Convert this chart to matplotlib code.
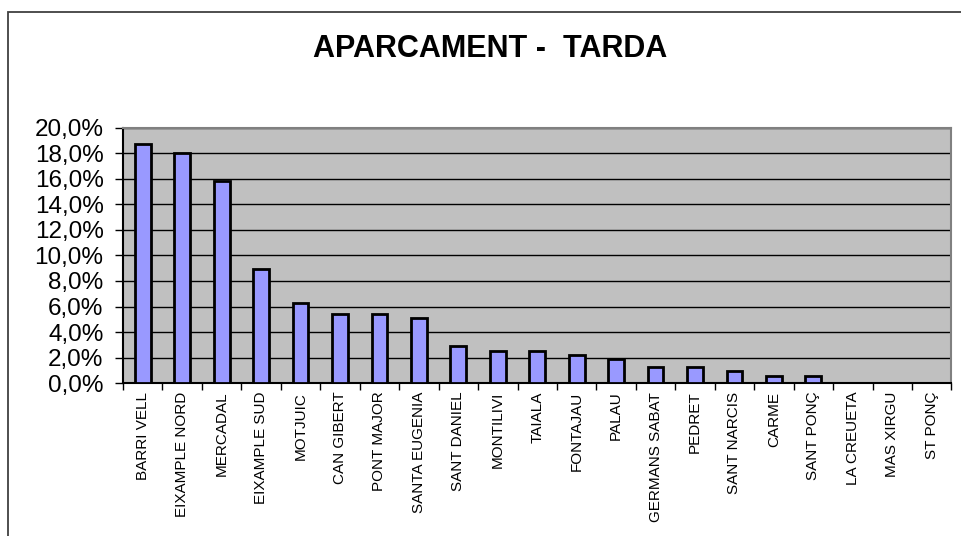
import numpy as np
import matplotlib
matplotlib.use('Agg')
import matplotlib.pyplot as plt
from matplotlib.ticker import FuncFormatter, FixedLocator
from matplotlib.patches import Rectangle

plt.rcParams['font.family'] = ['Liberation Sans', 'DejaVu Sans']

# Data
barris = ['BARRI VELL', 'EIXAMPLE NORD', 'MERCADAL', 'EIXAMPLE SUD', 'MOTJUIC',
          'CAN GIBERT', 'PONT MAJOR', 'SANTA EUGENIA', 'SANT DANIEL', 'MONTILIVI',
          'TAIALA', 'FONTAJAU', 'PALAU', 'GERMANS SABAT', 'PEDRET', 'SANT NARCIS',
          'CARME', 'SANT PONÇ', 'LA CREUETA', 'MAS XIRGU', 'ST PONÇ']
percent = [18.7, 18.0, 15.8, 8.9, 6.3, 5.4, 5.4, 5.1, 2.9, 2.5, 2.5,
           2.2, 1.9, 1.3, 1.3, 0.95, 0.6, 0.6, 0.0, 0.0, 0.0]

fig = plt.figure(figsize=(9.62, 5.36), dpi=100)
ax = fig.add_axes([0.1279, 0.2849, 0.989 - 0.1279, 0.7621 - 0.2849])

# outer chart border (only left and top visible in the reference)
fig.patches.append(Rectangle((8 / 962, -0.1), 1.2, 1 - 12 / 536 + 0.1,
                             transform=fig.transFigure, fill=False,
                             edgecolor='#404040', linewidth=1.3))

x = np.arange(len(barris))
ax.set_facecolor('#C0C0C0')
ax.set_axisbelow(True)
ax.yaxis.grid(True, color='black', linewidth=1)
ax.bar(x, percent, width=0.4, color='#9999FF', edgecolor='black', linewidth=2, zorder=3)

ax.set_xlim(-0.5, len(barris) - 0.5)
ax.set_ylim(0, 20)
ax.set_yticks(np.arange(0, 21, 2))
ax.yaxis.set_major_formatter(FuncFormatter(lambda v, p: f'{v:.1f}%'.replace('.', ',')))
ax.tick_params(axis='y', labelsize=17.5, length=6, width=1, pad=8, direction='out')

ax.set_xticks(x)
ax.set_xticklabels(barris, rotation=90, fontsize=11)
ax.tick_params(axis='x', which='major', length=0, pad=6)
ax.xaxis.set_minor_locator(FixedLocator(np.arange(-0.5, len(barris), 1)))
ax.tick_params(axis='x', which='minor', length=5, width=1, direction='out')

for side in ['top', 'right', 'left', 'bottom']:
    ax.spines[side].set_color('#808080')
    ax.spines[side].set_linewidth(1.5)
ax.spines['left'].set_color('black')
ax.spines['bottom'].set_color('black')

fig.text(0.509, 1 - 49 / 536, 'APARCAMENT -  TARDA', ha='center', va='center',
         fontsize=22, fontweight='bold')

fig.savefig('out.png', dpi=100)
